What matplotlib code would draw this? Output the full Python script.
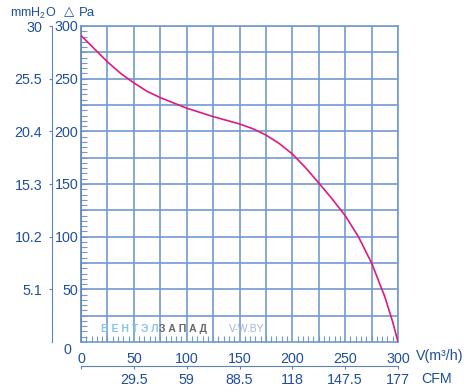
import matplotlib
matplotlib.use("Agg")
import matplotlib.pyplot as plt
from matplotlib.ticker import MultipleLocator

plt.rcParams['font.family'] = ['Liberation Sans', 'DejaVu Sans']
plt.rcParams['mathtext.default'] = 'regular'

# curve
flow = [0, 10, 25, 37.5, 50, 62.5, 75, 87.5, 100, 125, 150, 162.5, 175, 187.5,
        200, 212.5, 225, 237.5, 250, 262.5, 275, 287.5, 295, 300]
pressure = [291, 281, 266, 255, 246, 238, 232, 227, 222, 214, 207, 202.5, 196.5, 188.5,
            178.5, 165.5, 151, 136, 120, 100, 75, 43, 19, 0]

pa_ticks = [50, 100, 150, 200, 250, 300]
mm_labels = ['5.1', '10.2', '15.3', '20.4', '25.5', '30']
v_ticks = [0, 50, 100, 150, 200, 250, 300]
cfm_labels = ['', '29.5', '59', '88.5', '118', '147.5', '177']

TEXT = '#1f4f9c'
GRID = '#7299cf'
AXIS = '#5b82bd'
CURVE = '#e0197f'
FS = 10.3

fig = plt.figure(figsize=(4.7, 3.92), dpi=100)
ax = fig.add_axes([81 / 470, 50 / 392, 317 / 470, 316 / 392])

ax.plot(flow, pressure, color=CURVE, linewidth=1.2, zorder=5)
ax.set_xlim(0, 300)
ax.set_ylim(0, 300)

ax.grid(True, which='major', color=GRID, linewidth=1.2)
for s in ax.spines.values():
    s.set_color(GRID)
    s.set_linewidth(1.2)
ax.spines['left'].set_color(AXIS)

ax.set_xticks(v_ticks, labels=[str(v) for v in v_ticks])
ax.set_yticks(pa_ticks, labels=[str(p) for p in pa_ticks])
ax.xaxis.set_minor_locator(MultipleLocator(5))
ax.yaxis.set_minor_locator(MultipleLocator(5))
ax.tick_params(axis='both', which='minor', direction='in', length=4, width=0.8, color=GRID)
ax.tick_params(axis='y', which='major', direction='in', length=4, width=0.8, color=GRID,
               labelsize=FS, labelcolor=TEXT, pad=2)
ax.tick_params(axis='x', which='major', length=0, labelsize=FS, labelcolor=TEXT, pad=7)
# grid lines every 25, labels only every 50
for v in range(25, 300, 50):
    ax.axvline(v, color=GRID, linewidth=1.2, zorder=0.5)
    ax.axhline(v, color=GRID, linewidth=1.2, zorder=0.5)

# outer mmH2O axis
ax_mm = ax.secondary_yaxis(-29 / 317, functions=(lambda v: v, lambda v: v))
ax_mm.set_yticks(pa_ticks, labels=mm_labels)
ax_mm.spines['left'].set_color(AXIS)
ax_mm.tick_params(axis='y', direction='out', length=2, width=0.8, color=AXIS,
                  labelsize=FS, labelcolor=TEXT, pad=5)
ax.text(-14 / 317, -1 / 316, '0', transform=ax.transAxes, ha='center', va='top',
        fontsize=FS, color=TEXT)

# lower CFM axis
ax_cfm = ax.secondary_xaxis(-24 / 316, functions=(lambda v: v, lambda v: v))
ax_cfm.set_xticks(v_ticks, labels=cfm_labels)
ax_cfm.spines['bottom'].set_color(AXIS)
ax_cfm.tick_params(axis='x', direction='out', length=2, width=0.8, color=AXIS,
                   labelsize=FS, labelcolor=TEXT, pad=3)

# axis titles
fig.text(10 / 470, 1 - 13 / 392, 'mmH$_2$O', fontsize=9, color=TEXT, va='center')
fig.text(64 / 470, 1 - 12 / 392, '△', fontsize=9.5, color=TEXT, va='center',
         family=['DejaVu Sans'])
fig.text(79 / 470, 1 - 13 / 392, 'Pa', fontsize=9.5, color=TEXT, va='center')
fig.text(416 / 470, 1 - 356 / 392, 'V(m³/h)', fontsize=FS, color=TEXT, va='center')
fig.text(421 / 470, 1 - 379 / 392, 'CFM', fontsize=FS, color=TEXT, va='center')

# watermark
ax.text(19, 12.5, 'В Е Н Т Э Л', fontsize=7.5, color='#86c2ea', va='center',
        fontweight='bold', zorder=6)
ax.text(73.5, 12.5, 'З А П А Д', fontsize=7.5, color='#666666', va='center',
        fontweight='bold', zorder=6)
ax.text(140, 12.5, 'V-W.BY', fontsize=7.5, color='#9fb6d3', va='center', zorder=6)

fig.savefig('out.png', dpi=100)
